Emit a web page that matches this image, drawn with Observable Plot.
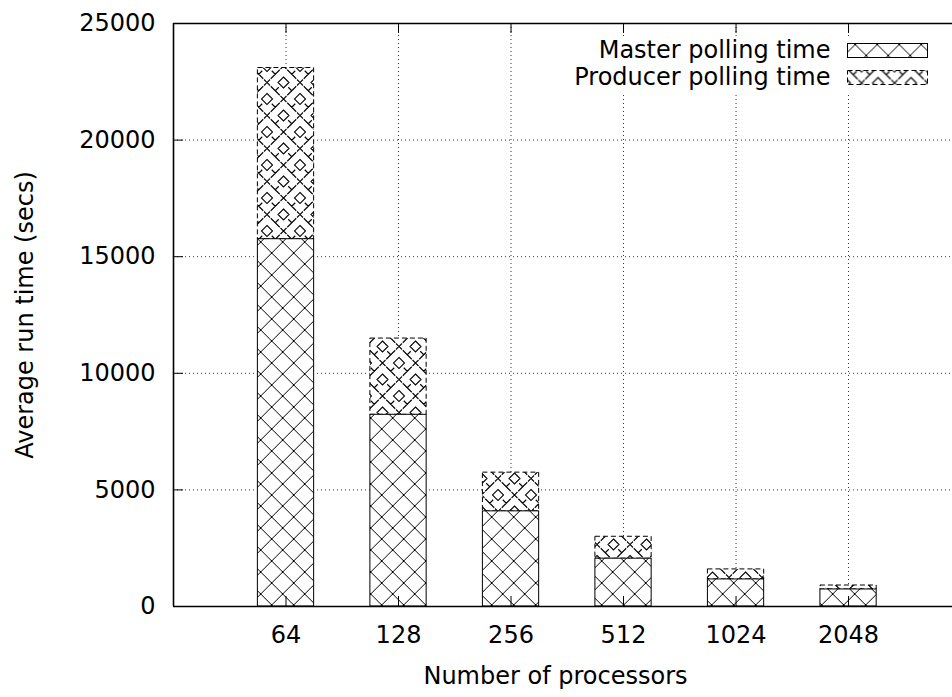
<!DOCTYPE html>
<html>
<head>
<meta charset="utf-8">
<script src="https://cdn.jsdelivr.net/npm/d3@7"></script>
<script src="https://cdn.jsdelivr.net/npm/@observablehq/plot@0.6"></script>
<style>
  body { margin: 0; background: #fff; }
  #chart svg { display: block; }
</style>
</head>
<body>
<div id="chart"></div>
<script>
// Average run time split into master and producer polling, per processor count
const processors = ["64", "128", "256", "512", "1024", "2048"];
const masterTime = [15750, 8220, 4080, 2050, 1160, 730];
const producerTime = [7340, 3270, 1660, 940, 430, 170];
const yTicks = [0, 5000, 10000, 15000, 20000, 25000];
const seriesNames = ["Master polling time", "Producer polling time"];
const xLabel = "Number of processors";
const yLabel = "Average run time (secs)";

const idx = processors.map((_, i) => i);
const half = 0.25; // half bar width in slot units

const masterBars = processors.map((p, i) => ({ i, y1: 0, y2: masterTime[i] }));
const producerBars = processors.map((p, i) => ({ i, y1: masterTime[i], y2: masterTime[i] + producerTime[i] }));

// Hatch patterns used by the two series
function patterns() {
  const defs = d3.create("svg:defs");
  const m = defs.append("pattern")
    .attr("id", "hatch-master")
    .attr("patternUnits", "userSpaceOnUse")
    .attr("x", 7.7).attr("y", 11)
    .attr("width", 22).attr("height", 22);
  m.append("path")
    .attr("d", "M0,0L22,22M22,0L0,22M-1,21L1,23M21,-1L23,1")
    .attr("stroke", "#000").attr("stroke-width", 1).attr("fill", "none");

  // dashed cross-hatch: diamonds and small crosses on a checkerboard, dashes in between
  const s = 33, h = s / 2, q = s / 4;
  const diamond = (cx, cy, r) => `M${cx},${cy - r}L${cx + r},${cy}L${cx},${cy + r}L${cx - r},${cy}Z`;
  const cross = (cx, cy, r) => `M${cx - r},${cy - r}L${cx + r},${cy + r}M${cx + r},${cy - r}L${cx - r},${cy + r}`;
  const slash = (cx, cy, r) => `M${cx - r},${cy + r}L${cx + r},${cy - r}`;
  const back = (cx, cy, r) => `M${cx - r},${cy - r}L${cx + r},${cy + r}`;
  let d = "";
  for (const [x, y] of [[0, 0], [s, 0], [0, s], [s, s], [h, h]]) d += diamond(x, y, 5.5);
  for (const [x, y] of [[h, 0], [0, h], [s, h], [h, s]]) d += cross(x, y, 3);
  // dash with a short stub at the four quarter points
  d += slash(q, q, 4.5) + `M${q},${q}L${q - 3.5},${q - 3.5}`;
  d += slash(3 * q, 3 * q, 4.5) + `M${3 * q},${3 * q}L${3 * q - 3.5},${3 * q - 3.5}`;
  d += back(3 * q, q, 4.5) + `M${3 * q},${q}L${3 * q + 3.5},${q - 3.5}`;
  d += back(q, 3 * q, 4.5) + `M${q},${3 * q}L${q + 3.5},${3 * q - 3.5}`;
  const p = defs.append("pattern")
    .attr("id", "hatch-producer")
    .attr("patternUnits", "userSpaceOnUse")
    .attr("x", 3).attr("y", 0)
    .attr("width", s).attr("height", s);
  p.append("path").attr("d", d)
    .attr("stroke", "#000").attr("stroke-width", 1.1).attr("fill", "none");
  return defs.node();
}

const W = 952, H = 697;
const mL = 173, mT = 23, mB = 91, mR = 0;
const innerW = W - mL - mR, innerH = H - mT - mB;
const tick = 10;
const fs = 24; // font size

const barX = { x1: d => d.i - half, x2: d => d.i + half, y1: "y1", y2: "y2" };

const chart = Plot.plot({
  width: W,
  height: H,
  marginLeft: mL,
  marginRight: mR,
  marginTop: mT,
  marginBottom: mB,
  x: { type: "linear", domain: [-1, 5.924], axis: null },
  y: { domain: [0, 25000], axis: null },
  style: { fontFamily: "'DejaVu Sans', sans-serif", fontSize: fs + "px", color: "#000", background: "#fff" },
  marks: [
    patterns,
    Plot.gridY(yTicks, { stroke: "#000", strokeOpacity: 0.8, strokeDasharray: "1,3" }),
    Plot.gridX(idx, { stroke: "#000", strokeOpacity: 0.8, strokeDasharray: "1,3" }),
    // key backdrop
    Plot.frame({ fill: "#fff", stroke: "none", insetLeft: 560 - mL, insetTop: 36 - mT, insetBottom: mT + innerH - 93 }),
    // producer segment (stacked on top)
    Plot.rect(producerBars, { ...barX, fill: "#fff" }),
    Plot.rect(producerBars, { ...barX, fill: "url(#hatch-producer)", stroke: "#000", strokeWidth: 1, strokeDasharray: "5,3" }),
    // master segment
    Plot.rect(masterBars, { ...barX, fill: "#fff" }),
    Plot.rect(masterBars, { ...barX, fill: "url(#hatch-master)", stroke: "#000", strokeWidth: 1 }),
    // border
    Plot.ruleY([0, 25000], { stroke: "#000", strokeWidth: 1.6 }),
    Plot.ruleX([-1], { stroke: "#000", strokeWidth: 1.6 }),
    // inward tick marks
    Plot.ruleX(idx, { x: d => d, insetTop: innerH - tick, stroke: "#000" }),
    Plot.ruleX(idx, { x: d => d, insetBottom: innerH - tick, stroke: "#000" }),
    Plot.ruleY(yTicks, { y: d => d, insetRight: innerW - tick, stroke: "#000" }),
    // tick labels
    Plot.axisY(yTicks, { tickSize: 0, tickPadding: 18, tickFormat: d => String(d), label: null, fontSize: fs }),
    Plot.axisX(idx, { tickSize: 0, tickPadding: 19, tickFormat: i => processors[i], label: null, fontSize: fs }),
    // axis titles
    Plot.text([yLabel], { frameAnchor: "left", textAnchor: "middle", lineAnchor: "middle", dx: -148, rotate: -90, fontSize: fs }),
    Plot.text([xLabel], { frameAnchor: "bottom", textAnchor: "middle", lineAnchor: "middle", dx: 555 - (mL + innerW / 2), dy: 70, fontSize: fs }),
    // key
    Plot.text([seriesNames[0]], { frameAnchor: "top-right", textAnchor: "end", lineAnchor: "middle", dx: -122, dy: 50 - mT, fontSize: fs }),
    Plot.text([seriesNames[1]], { frameAnchor: "top-right", textAnchor: "end", lineAnchor: "middle", dx: -122, dy: 77 - mT, fontSize: fs }),
    Plot.frame({ fill: "url(#hatch-master)", stroke: "#000", strokeWidth: 1,
      insetLeft: 847 - mL, insetRight: W - 927, insetTop: 43 - mT, insetBottom: mT + innerH - 57 }),
    Plot.frame({ fill: "url(#hatch-producer)", stroke: "#000", strokeWidth: 1, strokeDasharray: "5,3",
      insetLeft: 847 - mL, insetRight: W - 927, insetTop: 70 - mT, insetBottom: mT + innerH - 84 })
  ]
});

document.getElementById("chart").append(chart);
</script>
</body>
</html>
